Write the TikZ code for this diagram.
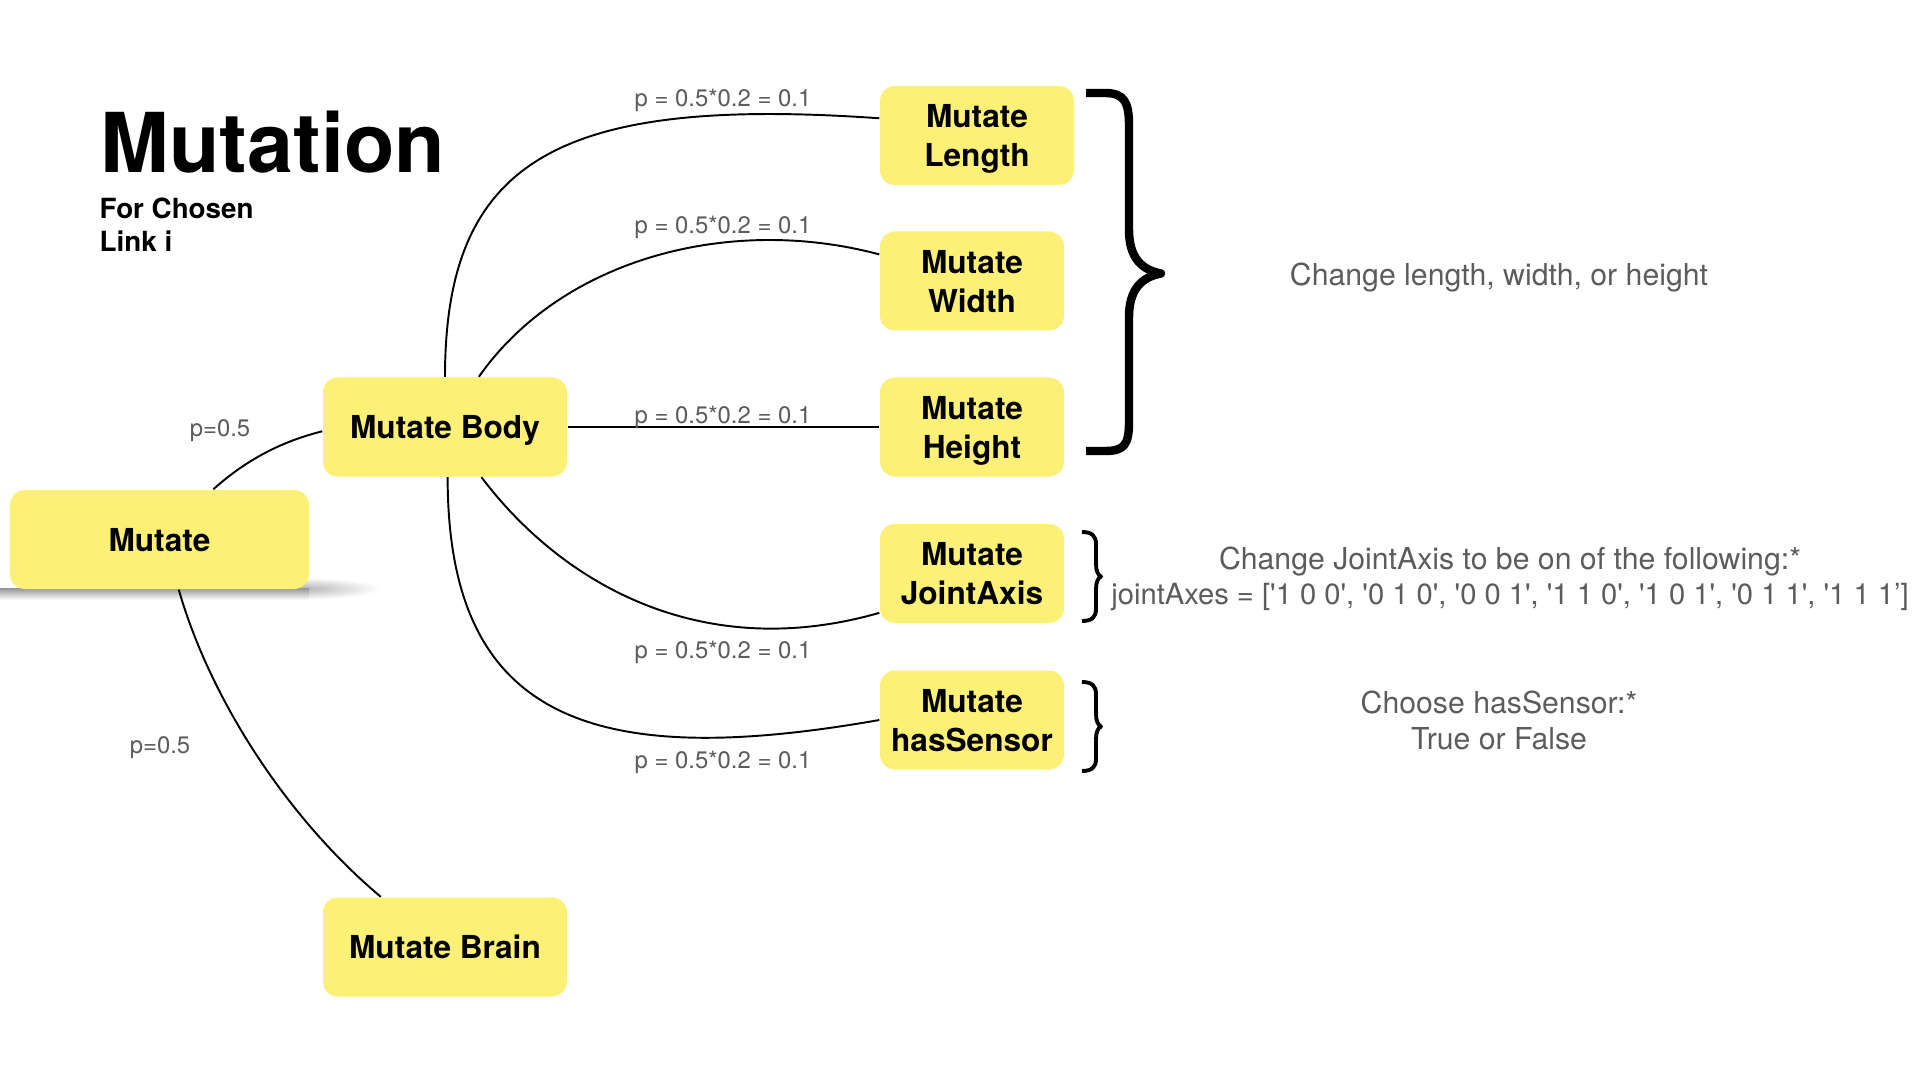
\documentclass[tikz,border=0pt]{standalone}
\usepackage{fontspec}
\setmainfont{TeX Gyre Heros}
\usepackage{tikz}
\usepackage{xcolor}
\definecolor{boxyellow}{RGB}{252,240,118}
\definecolor{notegray}{RGB}{92,92,92}
\newcommand{\squote}{\XeTeXglyph\XeTeXcharglyph"27\relax}

\begin{document}
\begin{tikzpicture}[
    mbox/.style={fill=boxyellow, rounded corners=0.15cm, minimum height=0.99cm, inner sep=0pt, text depth=0pt, align=center, font=\fontsize{9}{11.1}\selectfont\bfseries},
    plabel/.style={notegray, font=\fontsize{6.8}{8}\selectfont},
    note/.style={notegray, align=center, font=\fontsize{8.6}{10.1}\selectfont},
    link/.style={black, line width=0.55pt},
    bigbrace/.style={line width=2.4pt, line join=round},
    thinbrace/.style={line width=1.1pt, line join=round}
]
\useasboundingbox (0,0) rectangle (19.2,-10.8);

% title
\node[font=\fontsize{23.5}{28}\selectfont\bfseries, anchor=base west, inner sep=0pt] (title) at (1.00,-1.73) {Mutation};
\node[font=\fontsize{7.9}{9.4}\selectfont\bfseries, align=left, anchor=north west, inner sep=0pt] (subtitle) at (0.99,-1.975) {For Chosen\\Link i};

% soft shadow under Mutate
\shade[inner color=black!30, outer color=white] (3.0,-5.885) ellipse (0.8 and 0.11);
\shade[top color=black!40, bottom color=white] (0,-5.885) rectangle (3.09,-6.0);

% boxes
\node[mbox, minimum width=2.99cm] (mutate) at (1.595,-5.395) {Mutate};
\node[mbox, minimum width=2.44cm] (body) at (4.45,-4.27) {Mutate Body};
\node[mbox, minimum width=2.44cm] (brain) at (4.45,-9.47) {Mutate Brain};
\node[mbox, minimum width=1.94cm] (length) at (9.77,-1.355) {Mutate\\Length};
\node[mbox, minimum width=1.84cm] (width) at (9.72,-2.81) {Mutate\\Width};
\node[mbox, minimum width=1.84cm] (height) at (9.72,-4.27) {Mutate\\Height};
\node[mbox, minimum width=1.84cm] (joint) at (9.72,-5.735) {Mutate\\JointAxis};
\node[mbox, minimum width=1.84cm] (sensor) at (9.72,-7.20) {Mutate\\hasSensor};

% links
\draw[link] (mutate.43) to[out=42, in=194, out distance=0.45cm, in distance=0.41cm] (body.182);
\draw[link] (mutate.-69) to[out=-74, in=140, out distance=1.15cm, in distance=1.21cm] (brain.142);
\draw[link] (body.north) to[out=90, in=176, out distance=2.18cm, in distance=3.2cm] (length.170);
\draw[link] (body.56) to[out=55, in=165, out distance=1.44cm, in distance=1.55cm] (width.164);
\draw[link] (body.east) -- (height.west);
\draw[link] (body.-54) to[out=-53, in=196, out distance=1.31cm, in distance=1.87cm] (joint.203);
\draw[link] (body.-87) to[out=-90, in=190, out distance=2.44cm, in distance=2.9cm] (sensor.west);

% probabilities
\node[plabel] (pbody) at (2.20,-4.31) {p=0.5};
\node[plabel] (pbrain) at (1.60,-7.48) {p=0.5};
\node[plabel] (plen) at (7.23,-1.005) {p = 0.5*0.2 = 0.1};
\node[plabel] (pwid) at (7.23,-2.275) {p = 0.5*0.2 = 0.1};
\node[plabel] (phei) at (7.23,-4.175) {p = 0.5*0.2 = 0.1};
\node[plabel] (pjoint) at (7.23,-6.525) {p = 0.5*0.2 = 0.1};
\node[plabel] (psens) at (7.23,-7.625) {p = 0.5*0.2 = 0.1};

% braces
\draw[bigbrace] (10.86,-0.93) -- (11.05,-0.93) .. controls (11.24,-0.93) and (11.29,-1.02) .. (11.29,-1.25) -- (11.29,-2.30) .. controls (11.29,-2.58) and (11.42,-2.70) .. (11.61,-2.735) .. controls (11.42,-2.77) and (11.29,-2.89) .. (11.29,-3.17) -- (11.29,-4.22) .. controls (11.29,-4.45) and (11.24,-4.51) .. (11.05,-4.51) -- (10.86,-4.51);
\draw[thinbrace] (10.82,-5.32) .. controls (10.92,-5.32) and (10.96,-5.36) .. (10.96,-5.44) -- (10.96,-5.64) .. controls (10.96,-5.71) and (10.98,-5.75) .. (11.01,-5.765) .. controls (10.98,-5.78) and (10.96,-5.82) .. (10.96,-5.89) -- (10.96,-6.09) .. controls (10.96,-6.17) and (10.92,-6.21) .. (10.82,-6.21);
\draw[thinbrace] (10.82,-6.82) .. controls (10.92,-6.82) and (10.96,-6.86) .. (10.96,-6.94) -- (10.96,-7.14) .. controls (10.96,-7.21) and (10.98,-7.25) .. (11.01,-7.265) .. controls (10.98,-7.28) and (10.96,-7.32) .. (10.96,-7.39) -- (10.96,-7.59) .. controls (10.96,-7.67) and (10.92,-7.71) .. (10.82,-7.71);

% notes
\node[note] (notesize) at (14.99,-2.775) {Change length, width, or height};
\node[note] (notejoint) at (15.10,-5.79) {Change JointAxis to be on of the following:*\\{\fontsize{8.3}{10.1}\selectfont jointAxes = [\squote1 0 0\squote, \squote0 1 0\squote, \squote0 0 1\squote, \squote1 1 0\squote, \squote1 0 1\squote, \squote0 1 1\squote, \squote1 1 1’]}};
\node[note] (notesensor) at (14.99,-7.205) {Choose hasSensor:*\\True or False};

\end{tikzpicture}
\end{document}
